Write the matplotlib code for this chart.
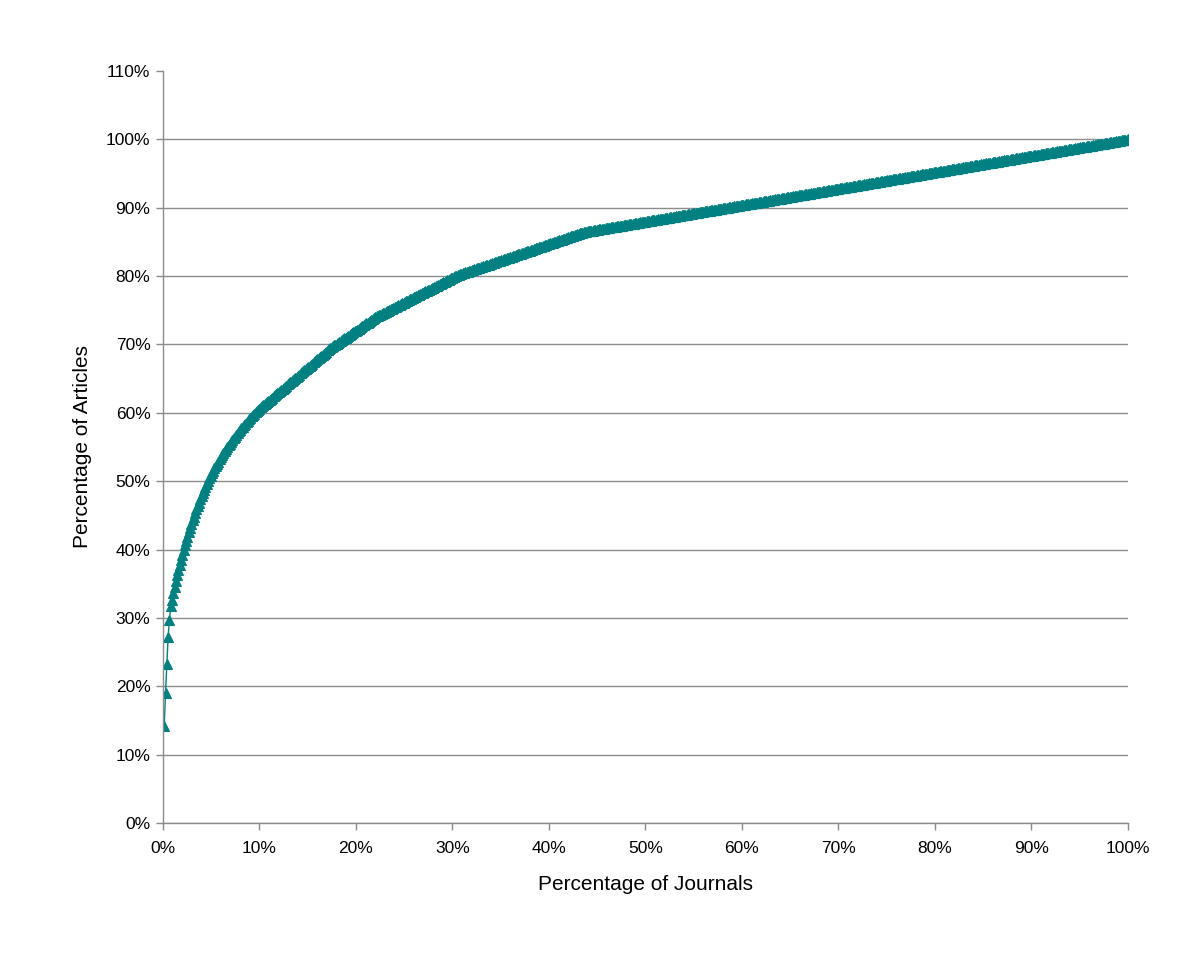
import numpy as np
import matplotlib
matplotlib.use('Agg')
import matplotlib.pyplot as plt
from matplotlib.ticker import PercentFormatter

# articles per journal, journals ranked by output
top_articles = [443, 150, 132, 125, 74, 64, 31, 30, 28, 27, 26, 25, 24, 23, 22, 22,
                21, 20, 20, 19, 19, 18, 18, 17, 17, 16, 16, 15, 15, 15, 14, 14, 14, 13, 13,
                12, 12, 12, 11, 11, 11, 10, 10, 10, 10, 9, 9, 9, 9, 9, 9,
                8, 8, 8, 8, 8, 8, 8, 8, 7, 7, 7, 7, 7, 7, 7, 7, 6, 6, 6, 6, 6, 6, 6, 6]
# remaining journals grouped by their article count
tail_articles = [5, 4, 3, 2, 1]
tail_journals = [56, 35, 63, 98, 423]

counts = np.concatenate([top_articles, np.repeat(tail_articles, tail_journals)])
pct_journals = np.arange(1, len(counts) + 1) / len(counts) * 100
pct_articles = np.cumsum(counts) / counts.sum() * 100

plt.rcParams['font.family'] = ['Liberation Sans', 'DejaVu Sans']

fig = plt.figure(figsize=(12, 9.69), dpi=100)
ax = fig.add_axes([0.1358, 0.1507, 0.8042, 0.776])

teal = '#008080'
ax.plot(pct_journals, pct_articles, color=teal, lw=1.0, marker='^',
        markersize=7.2, markeredgewidth=0.8, markeredgecolor=teal, markerfacecolor=teal)

ax.set_xlim(0, 100)
ax.set_ylim(0, 110)
ax.set_xticks(np.arange(0, 101, 10))
ax.set_yticks(np.arange(0, 111, 10))
ax.xaxis.set_major_formatter(PercentFormatter(decimals=0))
ax.yaxis.set_major_formatter(PercentFormatter(decimals=0))

ax.grid(axis='y', color='#8c8c8c', lw=1.0)
ax.set_axisbelow(True)
ax.yaxis.get_gridlines()[-1].set_visible(False)

for s in ['top', 'right']:
    ax.spines[s].set_visible(False)
for s in ['left', 'bottom']:
    ax.spines[s].set_color('#8c8c8c')
    ax.spines[s].set_linewidth(1.0)

ax.tick_params(axis='both', direction='out', length=5, width=1, color='#8c8c8c',
               labelsize=12.5, labelcolor='black')
ax.tick_params(axis='x', pad=8)
ax.tick_params(axis='y', pad=4)

ax.set_xlabel('Percentage of Journals', fontsize=15, labelpad=14)
ax.set_ylabel('Percentage of Articles', fontsize=15, labelpad=10)

fig.savefig('out.png', dpi=100)
